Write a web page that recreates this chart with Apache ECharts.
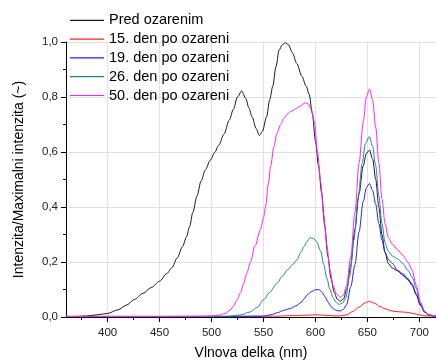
<!DOCTYPE html>
<html>
<head>
<meta charset="utf-8">
<script src="https://cdn.jsdelivr.net/npm/echarts@6/dist/echarts.min.js"></script>
<style>
html,body{margin:0;padding:0;background:#fff;}
#chart{width:436px;height:360px;}
</style>
</head>
<body>
<div id="chart"></div>
<script>
var seriesNames = ['Pred ozarenim', '15. den po ozareni', '19. den po ozareni', '26. den po ozareni', '50. den po ozareni'];
var seriesColors = ['#1a1a1a', '#ff2020', '#2020ff', '#1a8a8a', '#ff20ff'];
var xTicks = [400, 450, 500, 550, 600, 650, 700];
var xMinorTicks = [375, 425, 475, 525, 575, 625, 675];

var predOzarenim = [[360,0.001],[370,0.002],[380,0.004],[390,0.008],[400,0.013],[410,0.026],[418,0.043],[426,0.064],[434,0.086],[442,0.107],[450,0.130],[457,0.158],[462,0.180],[467,0.215],[472,0.255],[476,0.292],[479,0.33],[482,0.38],[486,0.44],[490,0.495],[494,0.535],[499,0.571],[503,0.598],[507,0.625],[512,0.665],[517,0.715],[521,0.755],[525,0.80],[529,0.822],[533,0.795],[536,0.76],[539,0.728],[543,0.685],[546,0.660],[549,0.675],[553,0.728],[556,0.79],[559,0.84],[562,0.91],[565,0.97],[568,0.99],[571,0.997],[574,0.99],[578,0.96],[582,0.922],[587,0.875],[591,0.84],[594,0.81],[597,0.74],[600,0.64],[603,0.55],[606,0.45],[609,0.33],[612,0.22],[615,0.14],[618,0.09],[621,0.065],[624,0.057],[627,0.066],[630,0.10],[634,0.19],[638,0.32],[642,0.45],[646,0.55],[649,0.595],[652,0.607],[655,0.575],[658,0.50],[661,0.40],[664,0.30],[667,0.235],[670,0.195],[674,0.178],[679,0.168],[684,0.152],[689,0.135],[693,0.115],[697,0.08],[701,0.042],[705,0.018],[709,0.007],[716,0.002]];

var den15 = [[360,0.002],[500,0.002],[560,0.003],[580,0.005],[595,0.007],[602,0.008],[610,0.006],[618,0.004],[624,0.004],[630,0.008],[636,0.02],[642,0.036],[647,0.05],[652,0.057],[657,0.05],[662,0.038],[667,0.03],[673,0.022],[680,0.019],[688,0.017],[694,0.013],[700,0.008],[706,0.004],[716,0.002]];

var den19 = [[360,0.002],[500,0.002],[550,0.003],[557,0.008],[563,0.015],[570,0.025],[576,0.031],[581,0.04],[586,0.052],[589,0.065],[592,0.08],[596,0.092],[600,0.099],[603,0.10],[606,0.092],[609,0.075],[612,0.055],[615,0.038],[618,0.028],[621,0.023],[624,0.022],[627,0.028],[630,0.045],[634,0.11],[638,0.19],[642,0.31],[646,0.42],[649,0.47],[652,0.486],[655,0.46],[658,0.41],[661,0.34],[664,0.28],[667,0.235],[670,0.21],[674,0.195],[679,0.17],[684,0.158],[689,0.14],[693,0.12],[697,0.085],[701,0.045],[705,0.018],[709,0.007],[716,0.002]];

var den26 = [[360,0.002],[450,0.002],[500,0.002],[518,0.003],[528,0.008],[537,0.018],[544,0.035],[550,0.062],[556,0.09],[563,0.122],[568,0.148],[573,0.171],[578,0.19],[582,0.207],[586,0.235],[589,0.256],[592,0.275],[595,0.289],[598,0.285],[601,0.275],[605,0.24],[608,0.19],[611,0.14],[614,0.10],[617,0.07],[620,0.053],[623,0.046],[626,0.05],[629,0.068],[633,0.15],[637,0.28],[641,0.43],[645,0.56],[648,0.63],[652,0.656],[655,0.62],[658,0.55],[661,0.44],[664,0.34],[667,0.27],[670,0.24],[674,0.222],[679,0.212],[684,0.195],[689,0.17],[693,0.145],[697,0.105],[701,0.05],[705,0.02],[709,0.007],[716,0.002]];

var den50 = [[360,0.002],[400,0.002],[450,0.002],[490,0.003],[500,0.004],[508,0.007],[513,0.013],[518,0.025],[521,0.04],[524.5,0.062],[528,0.09],[531,0.122],[534,0.16],[537.5,0.20],[542,0.26],[547,0.316],[550,0.36],[552,0.40],[554.5,0.48],[557,0.55],[560,0.62],[563,0.668],[566.5,0.70],[569.5,0.722],[573,0.738],[576,0.747],[582,0.759],[586,0.768],[590,0.779],[593,0.775],[596,0.755],[599,0.71],[602,0.6],[605,0.49],[608,0.37],[611,0.26],[614,0.17],[617,0.115],[620,0.085],[624,0.072],[627,0.08],[630,0.115],[634,0.22],[638,0.38],[642,0.56],[646,0.71],[649,0.80],[652,0.829],[655,0.79],[658,0.69],[661,0.56],[664,0.43],[667,0.34],[670,0.29],[674,0.265],[679,0.245],[684,0.225],[689,0.20],[693,0.17],[697,0.115],[701,0.055],[705,0.022],[709,0.008],[716,0.002]];

var allData = [predOzarenim, den15, den19, den26, den50];
var FONT = 'Liberation Sans, Arial, sans-serif';

var chart = echarts.init(document.getElementById('chart'));
var series = seriesNames.map(function (n, i) {
  return {
    name: n,
    type: 'line',
    data: allData[i],
    symbol: 'none',
    showSymbol: false,
    smooth: 0.3,
    smoothMonotone: 'x',
    lineStyle: { width: 1, color: seriesColors[i] },
    itemStyle: { color: seriesColors[i] },
    z: 2 + i,
    animation: false
  };
});

chart.setOption({
  animation: false,
  backgroundColor: '#fff',
  grid: { left: 66, right: 0, top: 42, bottom: 43, containLabel: false, outerBoundsMode: 'none' },
  legend: {
    orient: 'vertical',
    left: 70,
    top: 11,
    icon: 'rect',
    itemWidth: 34,
    itemHeight: 1.2,
    itemGap: 0.2,
    padding: 0,
    textStyle: { fontSize: 14.5, fontFamily: FONT, color: '#000', lineHeight: 18.6 },
    data: seriesNames
  },
  xAxis: [{
    type: 'value',
    min: 360,
    max: 716,
    name: 'Vlnova delka (nm)',
    nameLocation: 'middle',
    nameGap: 29,
    nameTextStyle: { fontSize: 14, fontFamily: FONT, color: '#000' },
    axisLine: { show: true, onZero: false, lineStyle: { color: '#000', width: 1 } },
    axisTick: { show: true, inside: false, length: 5, customValues: xTicks, lineStyle: { color: '#000' } },
    axisLabel: { show: true, customValues: xTicks, fontSize: 11.5, fontFamily: FONT, color: '#222', margin: 10 },
    splitLine: { show: true, lineStyle: { color: '#e2e2e2', width: 1 } }
  }, {
    type: 'value',
    min: 360,
    max: 716,
    position: 'bottom',
    axisLine: { show: false },
    axisTick: { show: true, inside: false, length: 3, customValues: xMinorTicks, lineStyle: { color: '#000' } },
    axisLabel: { show: false },
    splitLine: { show: false }
  }],
  yAxis: {
    type: 'value',
    min: 0,
    max: 1,
    interval: 0.2,
    name: 'Intenzita/Maximalni intenzita (~)',
    nameLocation: 'middle',
    nameGap: 40,
    nameTextStyle: { fontSize: 14, fontFamily: FONT, color: '#000' },
    axisLine: { show: true, lineStyle: { color: '#000', width: 1 } },
    axisTick: { show: true, inside: false, length: 5, lineStyle: { color: '#000' } },
    minorTick: { show: true, splitNumber: 2, length: 3, lineStyle: { color: '#000' } },
    axisLabel: {
      fontSize: 11.5, fontFamily: FONT, color: '#222', margin: 8,
      formatter: function (v) { return v.toFixed(1).replace('.', ','); }
    },
    splitLine: { show: true, lineStyle: { color: '#e2e2e2', width: 1 } }
  },
  series: series
});
</script>
</body>
</html>
